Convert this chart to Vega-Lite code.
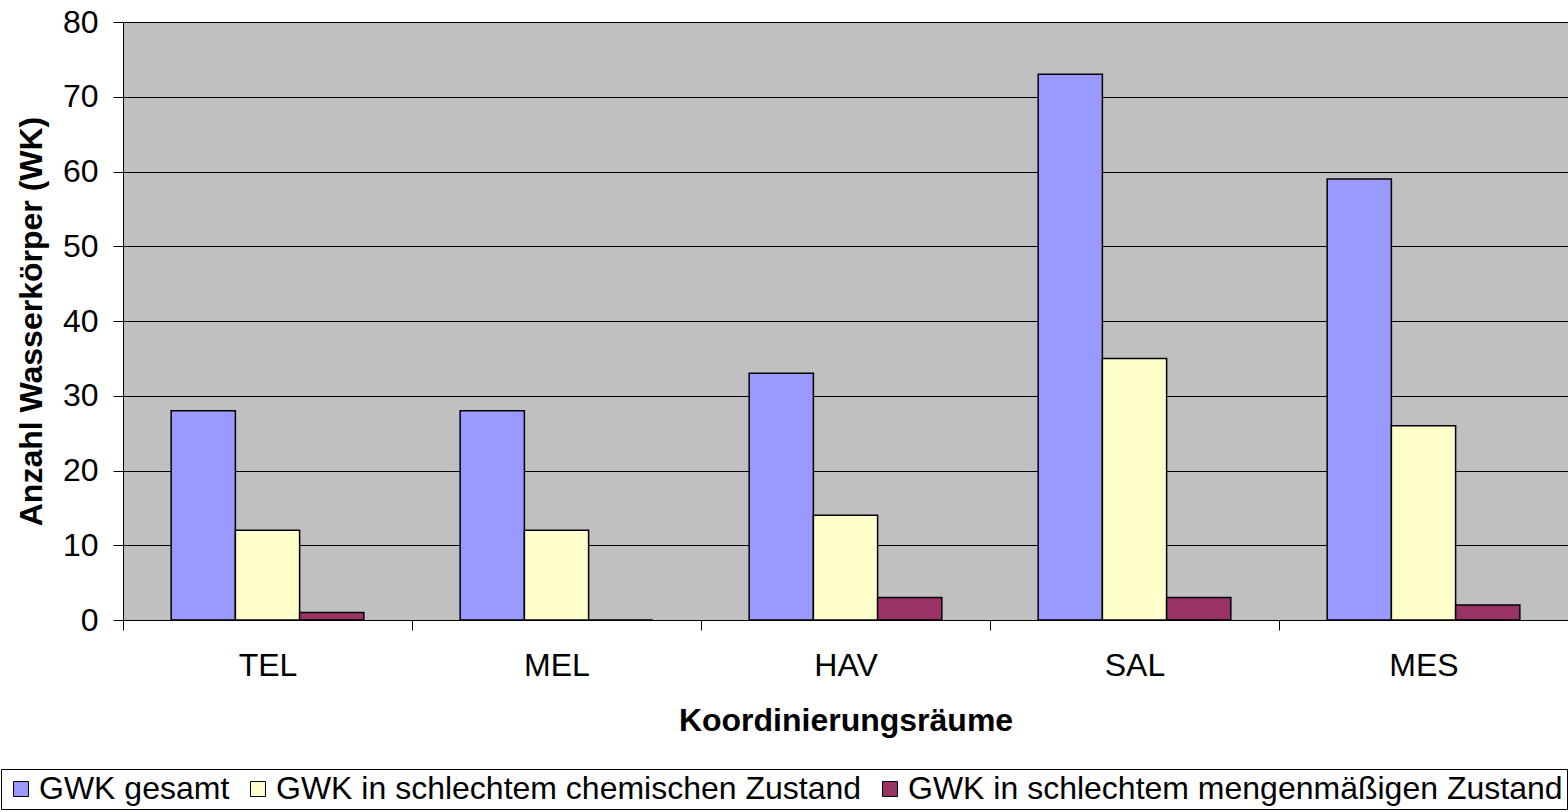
{
  "$schema": "https://vega.github.io/schema/vega-lite/v6.json",
  "autosize": {"type": "none"},
  "width": 1445,
  "height": 598,
  "padding": {"left": 123, "top": 22, "right": 0, "bottom": 192},
  "background": "white",
  "config": {
    "font": "Liberation Sans",
    "view": {"fill": "#C0C0C0", "stroke": null},
    "axis": {
      "labelFont": "Liberation Sans",
      "labelFontSize": 32,
      "labelColor": "black",
      "titleFont": "Liberation Sans",
      "titleFontSize": 32,
      "titleFontWeight": "bold",
      "titleColor": "black",
      "domainColor": "black",
      "domainWidth": 1,
      "tickColor": "black",
      "tickWidth": 1,
      "tickSize": 10
    },
    "legend": {
      "labelFont": "Liberation Sans",
      "labelFontSize": 32,
      "labelColor": "black"
    }
  },
  "data": {
    "values": [
      {"Raum": "TEL", "Kategorie": "GWK gesamt", "Anzahl": 28},
      {"Raum": "TEL", "Kategorie": "GWK in schlechtem chemischen Zustand", "Anzahl": 12},
      {"Raum": "TEL", "Kategorie": "GWK in schlechtem mengenmäßigen Zustand", "Anzahl": 1},
      {"Raum": "MEL", "Kategorie": "GWK gesamt", "Anzahl": 28},
      {"Raum": "MEL", "Kategorie": "GWK in schlechtem chemischen Zustand", "Anzahl": 12},
      {"Raum": "MEL", "Kategorie": "GWK in schlechtem mengenmäßigen Zustand", "Anzahl": 0},
      {"Raum": "HAV", "Kategorie": "GWK gesamt", "Anzahl": 33},
      {"Raum": "HAV", "Kategorie": "GWK in schlechtem chemischen Zustand", "Anzahl": 14},
      {"Raum": "HAV", "Kategorie": "GWK in schlechtem mengenmäßigen Zustand", "Anzahl": 3},
      {"Raum": "SAL", "Kategorie": "GWK gesamt", "Anzahl": 73},
      {"Raum": "SAL", "Kategorie": "GWK in schlechtem chemischen Zustand", "Anzahl": 35},
      {"Raum": "SAL", "Kategorie": "GWK in schlechtem mengenmäßigen Zustand", "Anzahl": 3},
      {"Raum": "MES", "Kategorie": "GWK gesamt", "Anzahl": 59},
      {"Raum": "MES", "Kategorie": "GWK in schlechtem chemischen Zustand", "Anzahl": 26},
      {"Raum": "MES", "Kategorie": "GWK in schlechtem mengenmäßigen Zustand", "Anzahl": 2}
    ]
  },
  "mark": {"type": "bar", "stroke": "black", "strokeWidth": 1.5},
  "encoding": {
    "x": {
      "field": "Raum",
      "type": "nominal",
      "sort": ["TEL", "MEL", "HAV", "SAL", "MES"],
      "scale": {"paddingInner": 0, "paddingOuter": 0},
      "axis": {
        "title": "Koordinierungsräume",
        "labelAngle": 0,
        "tickBand": "extent",
        "labelPadding": 20,
        "titlePadding": 24,
        "grid": false
      }
    },
    "xOffset": {
      "field": "Kategorie",
      "type": "nominal",
      "sort": ["GWK gesamt", "GWK in schlechtem chemischen Zustand", "GWK in schlechtem mengenmäßigen Zustand"],
      "scale": {"paddingInner": 0, "paddingOuter": 0.75}
    },
    "y": {
      "field": "Anzahl",
      "type": "quantitative",
      "scale": {"domain": [0, 80], "nice": false},
      "axis": {
        "title": "Anzahl Wasserkörper (WK)",
        "values": [0, 10, 20, 30, 40, 50, 60, 70, 80],
        "grid": true,
        "gridColor": "black",
        "gridWidth": 1,
        "gridOpacity": 1,
        "labelPadding": 15,
        "titlePadding": 14
      }
    },
    "color": {
      "field": "Kategorie",
      "type": "nominal",
      "sort": ["GWK gesamt", "GWK in schlechtem chemischen Zustand", "GWK in schlechtem mengenmäßigen Zustand"],
      "scale": {
        "domain": ["GWK gesamt", "GWK in schlechtem chemischen Zustand", "GWK in schlechtem mengenmäßigen Zustand"],
        "range": ["#9999FF", "#FFFFCC", "#993366"]
      },
      "legend": {
        "title": null,
        "orient": "none",
        "direction": "horizontal",
        "columns": 3,
        "legendX": -122,
        "legendY": 747,
        "strokeColor": "black",
        "fillColor": "white",
        "padding": 4,
        "symbolType": "square",
        "symbolSize": 225,
        "symbolStrokeColor": "black",
        "symbolStrokeWidth": 1,
        "symbolOpacity": 1,
        "labelOffset": 2,
        "columnPadding": 12,
        "labelLimit": 1000
      }
    }
  }
}
